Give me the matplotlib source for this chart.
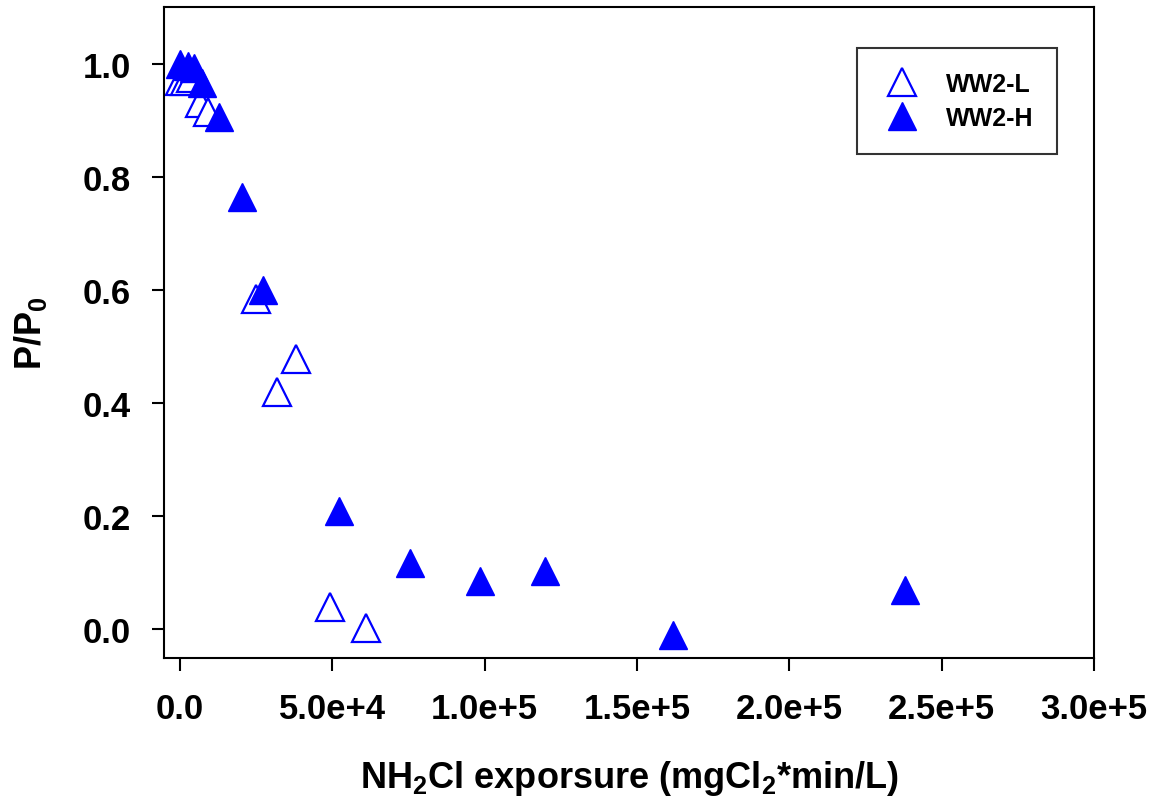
import matplotlib.pyplot as plt

# WW2-L (open triangles)
low_x = [0, 1500, 3500, 6500, 9000, 25000, 31800, 38100, 49200, 61000]
low_y = [0.97, 0.97, 0.975, 0.93, 0.915, 0.584, 0.42, 0.478, 0.04, 0.003]

# WW2-H (filled triangles)
high_x = [0, 2500, 4600, 7200, 12800, 20400, 27200, 52200, 75500, 98500, 119800, 161800, 238000]
high_y = [1.0, 0.995, 0.993, 0.965, 0.906, 0.765, 0.60, 0.21, 0.118, 0.085, 0.104, -0.01, 0.07]

plt.rcParams['font.family'] = ['Liberation Sans', 'DejaVu Sans']
plt.rcParams['font.weight'] = 'bold'
plt.rcParams['mathtext.fontset'] = 'custom'
plt.rcParams['mathtext.rm'] = 'Liberation Sans:bold'
plt.rcParams['mathtext.bf'] = 'Liberation Sans:bold'

fig = plt.figure(figsize=(11.59, 8.04), dpi=100)
ax = fig.add_axes([0.1415, 0.180, 0.8025, 0.810])

ax.plot(low_x, low_y, '^', ls='none', ms=20, mfc='white', mec='blue', mew=1.6, label='WW2-L', zorder=2)
ax.plot(high_x, high_y, '^', ls='none', ms=20, mfc='blue', mec='blue', mew=1, label='WW2-H', zorder=3)

ax.set_xlim(-5300, 300000)
ax.set_ylim(-0.051, 1.10)
ax.set_xticks([0, 50000, 100000, 150000, 200000, 250000, 300000])
ax.set_xticklabels(['0.0', '5.0e+4', '1.0e+5', '1.5e+5', '2.0e+5', '2.5e+5', '3.0e+5'])
ax.set_yticks([0.0, 0.2, 0.4, 0.6, 0.8, 1.0])
ax.set_yticklabels(['0.0', '0.2', '0.4', '0.6', '0.8', '1.0'])
ax.tick_params(direction='out', length=9, width=1.5, labelsize=25, pad=15)
for s in ax.spines.values():
    s.set_linewidth(1.5)

ax.set_xlabel(r'NH$_\mathbf{2}$Cl exporsure (mgCl$_\mathbf{2}$*min/L)', fontsize=26, fontweight='bold', labelpad=24)
ax.set_ylabel(r'P/P$_\mathbf{0}$', fontsize=26, fontweight='bold', labelpad=24)

leg = ax.legend(loc='upper right', bbox_to_anchor=(0.960, 0.937), fontsize=18, frameon=True,
                fancybox=False, edgecolor='black', markerscale=1.0, borderpad=0.95,
                borderaxespad=0, handletextpad=0.9, labelspacing=0.4, handlelength=1.7)
leg.get_frame().set_linewidth(1.5)

fig.savefig('out.png', dpi=100)
